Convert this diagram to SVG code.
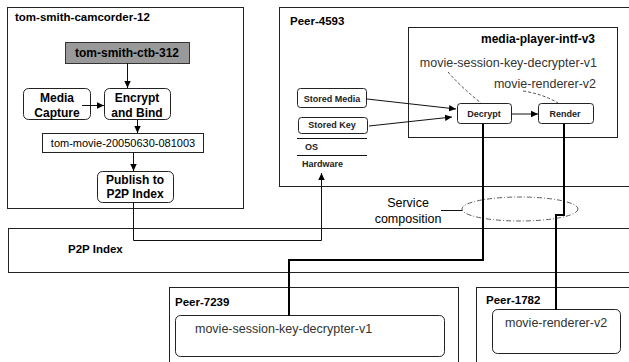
<svg xmlns="http://www.w3.org/2000/svg" width="629" height="362" viewBox="0 0 629 362">
<style>
text{font-family:"Liberation Sans",Arial,sans-serif;fill:#000}
.b{font-weight:bold;font-size:12px}
.t{font-weight:bold;font-size:11.5px}
.n{font-size:12.5px;fill:#333}
.s{font-size:9px;font-weight:bold;fill:#222}
.box{fill:#fff;stroke:#222;stroke-width:1}
.rb{fill:#fff;stroke:#222;stroke-width:1}
.ln{fill:none;stroke:#111;stroke-width:1}
.tk{fill:none;stroke:#000;stroke-width:2}
.ds{fill:none;stroke:#222;stroke-width:0.8;stroke-dasharray:3,2}
</style>
<defs>
<marker id="ah" markerWidth="8" markerHeight="8" refX="7" refY="4" orient="auto" markerUnits="userSpaceOnUse">
<path d="M0,0.8 L7,4 L0,7.2 z" fill="#000"/>
</marker>
</defs>

<g id="p2p-index">
<rect class="box" x="8.5" y="228.5" width="630" height="44"/>
<text class="t" x="68" y="253">P2P Index</text>
</g>

<g id="camcorder">
<rect class="box" x="7.5" y="7.5" width="236" height="201"/>
<text class="t" x="15" y="21">tom-smith-camcorder-12</text>
</g>
<g id="ctb">
<rect x="65.5" y="42.5" width="124" height="21" fill="#999" stroke="#333"/>
<text class="b" x="127" y="57" text-anchor="middle" font-size="12.5">tom-smith-ctb-312</text>
</g>
<g id="media-capture">
<rect class="rb" x="23.5" y="88.5" width="67" height="31" rx="5"/>
<text class="b" x="57" y="102" text-anchor="middle">Media</text>
<text class="b" x="57" y="117" text-anchor="middle">Capture</text>
</g>
<g id="encrypt">
<rect class="rb" x="104.5" y="88.5" width="66" height="31" rx="5"/>
<text class="b" x="137" y="102" text-anchor="middle">Encrypt</text>
<text class="b" x="137" y="117" text-anchor="middle">and Bind</text>
</g>
<g id="tom-movie">
<rect class="box" x="42.5" y="133.5" width="161" height="19"/>
<text x="123" y="147" font-size="11" text-anchor="middle" fill="#222">tom-movie-20050630-081003</text>
</g>
<g id="publish">
<rect class="rb" x="97.5" y="171.5" width="76" height="31" rx="5"/>
<text class="b" x="135" y="184" text-anchor="middle">Publish to</text>
<text class="b" x="135" y="198" text-anchor="middle">P2P Index</text>
</g>

<g id="peer-4593">
<rect class="box" x="279.5" y="7.5" width="360" height="179"/>
<text class="t" x="290" y="25">Peer-4593</text>
</g>
<g id="media-player">
<rect class="box" x="408.5" y="27.5" width="209" height="110"/>
<text class="b" x="595" y="43" text-anchor="end">media-player-intf-v3</text>
<text class="n" x="597" y="67" text-anchor="end">movie-session-key-decrypter-v1</text>
<text class="n" x="596" y="88" text-anchor="end">movie-renderer-v2</text>
</g>
<g id="stored-media">
<rect class="rb" x="297.5" y="88.5" width="69" height="19" rx="3"/>
<text class="s" x="332" y="102" text-anchor="middle">Stored Media</text>
</g>
<g id="stored-key">
<rect class="rb" x="298.5" y="117.5" width="69" height="16" rx="3"/>
<text class="s" x="332" y="128" text-anchor="middle">Stored Key</text>
</g>
<g id="os-hw">
<line class="ln" x1="297" y1="138.5" x2="367" y2="138.5"/>
<line class="ln" x1="297" y1="155.5" x2="367" y2="155.5"/>
<text class="s" x="305" y="150">OS</text>
<text class="s" x="302" y="167">Hardware</text>
</g>
<g id="decrypt">
<rect class="rb" x="457.5" y="103.5" width="54" height="20" rx="3"/>
<text class="s" x="484" y="117" text-anchor="middle">Decrypt</text>
</g>
<g id="render">
<rect class="rb" x="538.5" y="103.5" width="55" height="20" rx="3"/>
<text class="s" x="565" y="117" text-anchor="middle">Render</text>
</g>

<g id="peer-7239">
<rect class="box" x="169.5" y="287.5" width="289" height="80"/>
<text class="t" x="175" y="306">Peer-7239</text>
<rect class="rb" x="175.5" y="315.5" width="269" height="41" rx="5"/>
<text class="n" x="195" y="333">movie-session-key-decrypter-v1</text>
</g>
<g id="peer-1782">
<rect class="box" x="476.5" y="287.5" width="160" height="80"/>
<text class="t" x="486" y="304">Peer-1782</text>
<rect class="rb" x="492.5" y="309.5" width="128" height="44" rx="5"/>
<text class="n" x="505" y="327">movie-renderer-v2</text>
</g>

<g id="service-composition">
<ellipse cx="520" cy="209" rx="58" ry="12" fill="none" stroke="#333" stroke-width="0.8" stroke-dasharray="5,2,1,2"/>
<line x1="441" y1="210.5" x2="462" y2="210.5" stroke="#111" stroke-width="1"/>
<text x="408" y="207" font-size="12.5" fill="#333" text-anchor="middle">Service</text>
<text x="408" y="223" font-size="12.5" fill="#333" text-anchor="middle">composition</text>
</g>

<g id="connectors">
<line class="ln" x1="127.5" y1="63" x2="127.5" y2="88" marker-end="url(#ah)"/>
<line class="ln" x1="82" y1="105.5" x2="104" y2="105.5" marker-end="url(#ah)"/>
<line class="ln" x1="137.5" y1="120" x2="137.5" y2="133" marker-end="url(#ah)"/>
<line class="ln" x1="133.5" y1="152" x2="133.5" y2="171" marker-end="url(#ah)"/>
<polyline class="ln" points="133.5,202 133.5,240.5 321.5,240.5 321.5,173" marker-end="url(#ah)"/>
<line class="ln" x1="367" y1="99" x2="456" y2="109" marker-end="url(#ah)"/>
<line class="ln" x1="369" y1="126" x2="452" y2="117" marker-end="url(#ah)"/>
<line class="ln" x1="511" y1="114" x2="538" y2="114" marker-end="url(#ah)"/>
<path class="ds" d="M448,72 Q462,88 481,103"/>
<path class="ds" d="M523,91 Q543,94 558,103"/>
<polyline class="tk" points="483,124 483,260 289,260 289,316"/>
<polyline class="tk" points="564,124 564,215 556,215 556,310"/>
</g>
</svg>
